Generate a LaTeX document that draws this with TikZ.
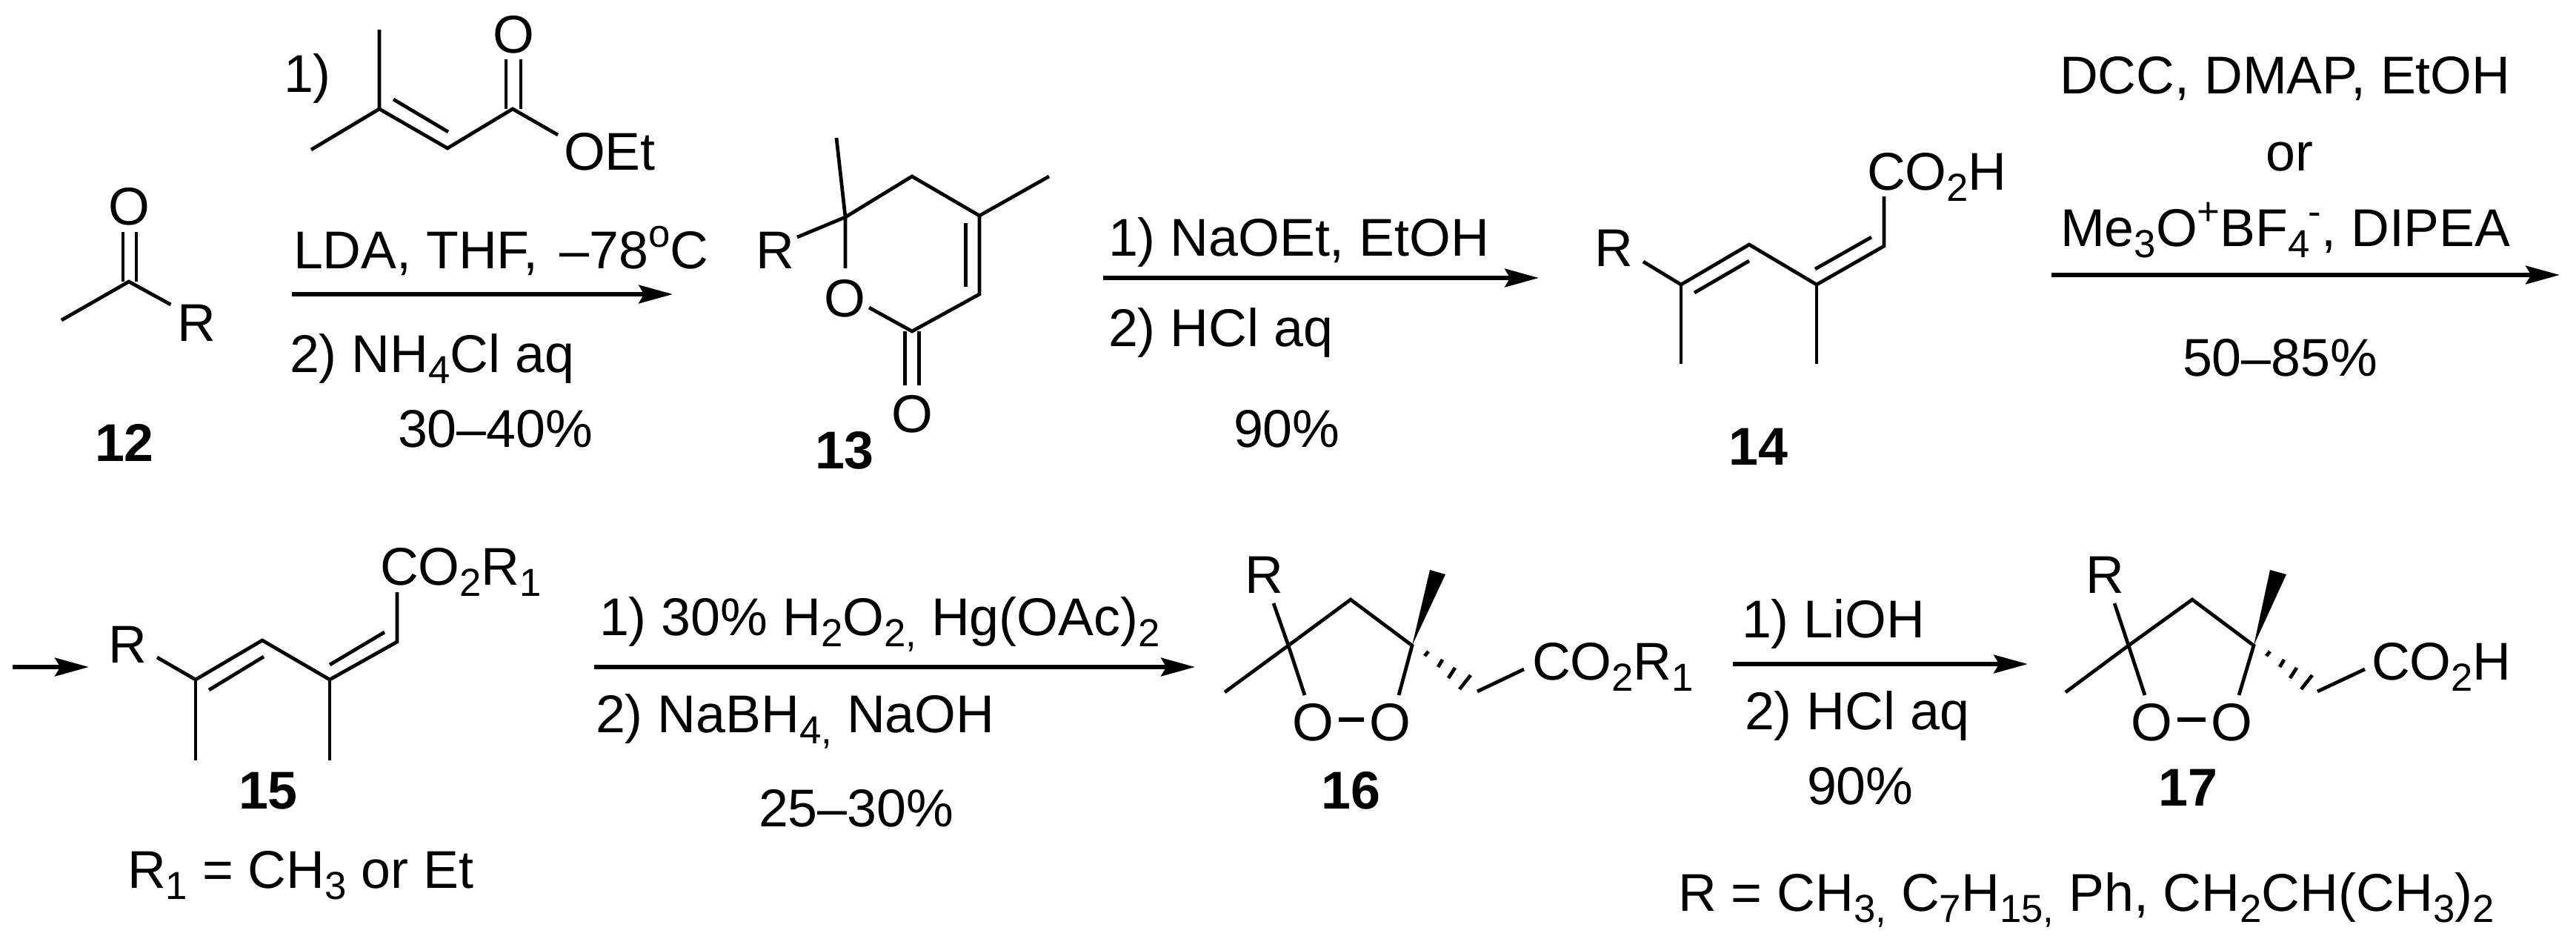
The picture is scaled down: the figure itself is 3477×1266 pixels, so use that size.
\documentclass[tikz,border=0pt]{standalone}
\usepackage{fontspec}
\setmainfont{Liberation Sans}
\usetikzlibrary{arrows.meta}
\newcommand{\subs}[1]{\raisebox{-4.5pt}{\fontsize{15}{16}\selectfont #1}}
\newcommand{\sups}[1]{\raisebox{8pt}{\fontsize{15}{16}\selectfont #1}}
\tikzset{
  lbl/.style={anchor=base west,inner sep=0pt,outer sep=0pt,font=\fontsize{20.4}{24}\selectfont},
  atom/.style={anchor=base,inner sep=0pt,outer sep=0pt,font=\fontsize{20.4}{24}\selectfont},
  cmpd/.style={anchor=base,inner sep=0pt,outer sep=0pt,font=\fontsize{20.4}{24}\selectfont\bfseries},
  bond/.style={line width=1.35pt,line join=miter,black},
  oobond/.style={line width=1.5pt,black,shorten <=2pt,shorten >=2pt},
  rxn/.style={line width=1.7pt,black,-{Stealth[length=13pt,width=7pt,inset=2pt]}},
  wedgebond/.style={fill=black,draw=none}
}
\begin{document}
\begin{tikzpicture}[x=0.01cm,y=-0.01cm]
\useasboundingbox (0,0) rectangle (3477,1266);
% ---- 12
\node[atom] (o12) at (174,303) {O};
\node[atom] (r12) at (265,460) {R};
\node[cmpd] (n12) at (168,622) {12};
\draw[bond] (83,432) -- (174,380) -- (230.5,411);
\draw[bond] (166,380) -- (166,313) (184,380) -- (184,313);
% ---- reagent 1
\node[lbl] (l1a) at (383,124) {1)};
\node[atom] (oe1) at (693,71) {O};
\node[lbl] (oet) at (761,229) {OEt};
\draw[bond] (512,40) -- (512,147) -- (420,202);
\draw[bond] (512,147) -- (604,200) -- (692,147) -- (753,182);
\draw[bond] (531,134) -- (605,178);
\draw[bond] (683,147) -- (683,80) (703,147) -- (703,80);
\node[lbl] (l1b) at (396,362) {LDA, THF, \kern2.5pt–78\sups{o}C};
\node[lbl] (l1c) at (391,502) {2) NH\subs{4}Cl aq};
\node[lbl] (l1d) at (537,603) {30–40\%};
\coordinate (a1s) at (394,397); \coordinate (a1e) at (908,397);
\draw[rxn] (a1s) -- (a1e);
% ---- 13
\node[atom] (r13) at (1046,362) {R};
\node[atom] (o13) at (1140,427) {O};
\node[atom] (oc13) at (1231,583) {O};
\node[cmpd] (n13) at (1140,632) {13};
\draw[bond] (1129,186) -- (1141,293) -- (1141,362);
\draw[bond] (1076,320) -- (1141,293) -- (1231,238) -- (1322,291) -- (1416,238);
\draw[bond] (1322,291) -- (1322,397) -- (1231,447) -- (1173,415);
\draw[bond] (1303.5,301) -- (1303.5,387);
\draw[bond] (1221.5,447) -- (1221.5,520) (1240.5,447) -- (1240.5,520);
% ---- arrow 2
\node[lbl] (l2a) at (1496,345) {1) NaOEt, EtOH};
\node[lbl] (l2b) at (1496,467) {2) HCl aq};
\node[lbl] (l2c) at (1665,603) {90\%};
\coordinate (a2s) at (1489,375); \coordinate (a2e) at (2077,375);
\draw[rxn] (a2s) -- (a2e);
% ---- 14
\node[atom] (r14) at (2178,359) {R};
\node[lbl] (co14) at (2520,256) {CO\subs{2}H};
\node[cmpd] (n14) at (2373,627) {14};
\draw[bond] (2218,353) -- (2269,384) -- (2361,330) -- (2452,384) -- (2543,332) -- (2543,265);
\draw[bond] (2269,384) -- (2269,491) (2452,384) -- (2452,491);
\draw[bond] (2287,395) -- (2361,352) (2450,363) -- (2526,320);
% ---- arrow 3
\node[lbl] (l3a) at (2780,126) {DCC, DMAP, EtOH};
\node[atom] (l3b) at (3090,230) {or};
\node[lbl] (l3c) at (2781,332) {Me\subs{3}O\sups{+}BF\subs{4}\kern-0.5pt\sups{-}, DIPEA};
\node[lbl] (l3d) at (2946,507) {50–85\%};
\coordinate (a3s) at (2769,371); \coordinate (a3e) at (3455,371);
\draw[rxn] (a3s) -- (a3e);
% ---- second row start arrow
\coordinate (a4s) at (17,900); \coordinate (a4e) at (120,900);
\draw[rxn] (a4s) -- (a4e);
% ---- 15
\node[atom] (r15) at (172,894) {R};
\node[lbl] (co15) at (513,789) {CO\subs{2}R\subs{1}};
\node[cmpd] (n15) at (362,1091) {15};
\node[lbl] (r1) at (172,1198) {R\subs{1} = CH\subs{3} or Et};
\draw[bond] (212,887) -- (264,917) -- (354,864) -- (445,917) -- (536,866) -- (536,799);
\draw[bond] (264,917) -- (264,1026) (445,917) -- (445,1026);
\draw[bond] (282,931) -- (356,886) (445,897) -- (519,853);
% ---- arrow 5
\node[lbl] (l5a) at (809,857) {1) 30\% H\subs{2}O\subs{2,} Hg(OAc)\subs{2}};
\node[lbl] (l5b) at (804,988) {2) NaBH\subs{4,} NaOH};
\node[lbl] (l5c) at (1024,1115) {25–30\%};
\coordinate (a5s) at (802,900); \coordinate (a5e) at (1613,900);
\draw[rxn] (a5s) -- (a5e);
% ---- 16
\node[atom] (r16) at (1706,800) {R};
\node[atom] (oa16) at (1772,999) {O};
\node[atom] (ob16) at (1876,999) {O};
\node[lbl] (co16) at (2068,917) {CO\subs{2}R\subs{1}};
\node[cmpd] (n16) at (1823,1091) {16};
\draw[bond] (1719,814) -- (1739,871) -- (1761,938);
\draw[bond] (1653,934) -- (1739,871) -- (1823,809) -- (1906,871) -- (1888,938);
\fill[wedgebond] (1906,871) -- (1930,769) -- (1951,775) -- cycle;
\draw[bond] (1923,885) -- (1928,879) (1941,900) -- (1947,890) (1955,915) -- (1964,901) (1970,930) -- (1985,911);
\draw[bond] (1994,933) -- (2057,903);
\draw[oobond] (oa16.east |- 0,971) -- (ob16.west |- 0,971);
% ---- arrow 6
\node[lbl] (l6a) at (2351,860) {1) LiOH};
\node[lbl] (l6b) at (2355,984) {2) HCl aq};
\node[lbl] (l6c) at (2439,1085) {90\%};
\coordinate (a6s) at (2339,896); \coordinate (a6e) at (2737,896);
\draw[rxn] (a6s) -- (a6e);
% ---- 17
\node[atom] (r17) at (2841,800) {R};
\node[atom] (oa17) at (2904,999) {O};
\node[atom] (ob17) at (3012,999) {O};
\node[lbl] (co17) at (3201,917) {CO\subs{2}H};
\node[cmpd] (n17) at (2953,1087) {17};
\draw[bond] (2854,814) -- (2873,871) -- (2895,938);
\draw[bond] (2788,934) -- (2873,871) -- (2959,809) -- (3042,871) -- (3022,938);
\fill[wedgebond] (3042,871) -- (3064,769) -- (3086,775) -- cycle;
\draw[bond] (3059,885) -- (3064,879) (3077,900) -- (3083,890) (3091,915) -- (3100,901) (3106,930) -- (3121,911);
\draw[bond] (3128,933) -- (3192,903);
\draw[oobond] (oa17.east |- 0,971) -- (ob17.west |- 0,971);
\node[lbl] (rdef) at (2265,1229) {R = CH\subs{3,} C\subs{7}H\subs{15,} Ph, CH\subs{2}CH(CH\subs{3})\subs{2}};
\end{tikzpicture}
\end{document}
